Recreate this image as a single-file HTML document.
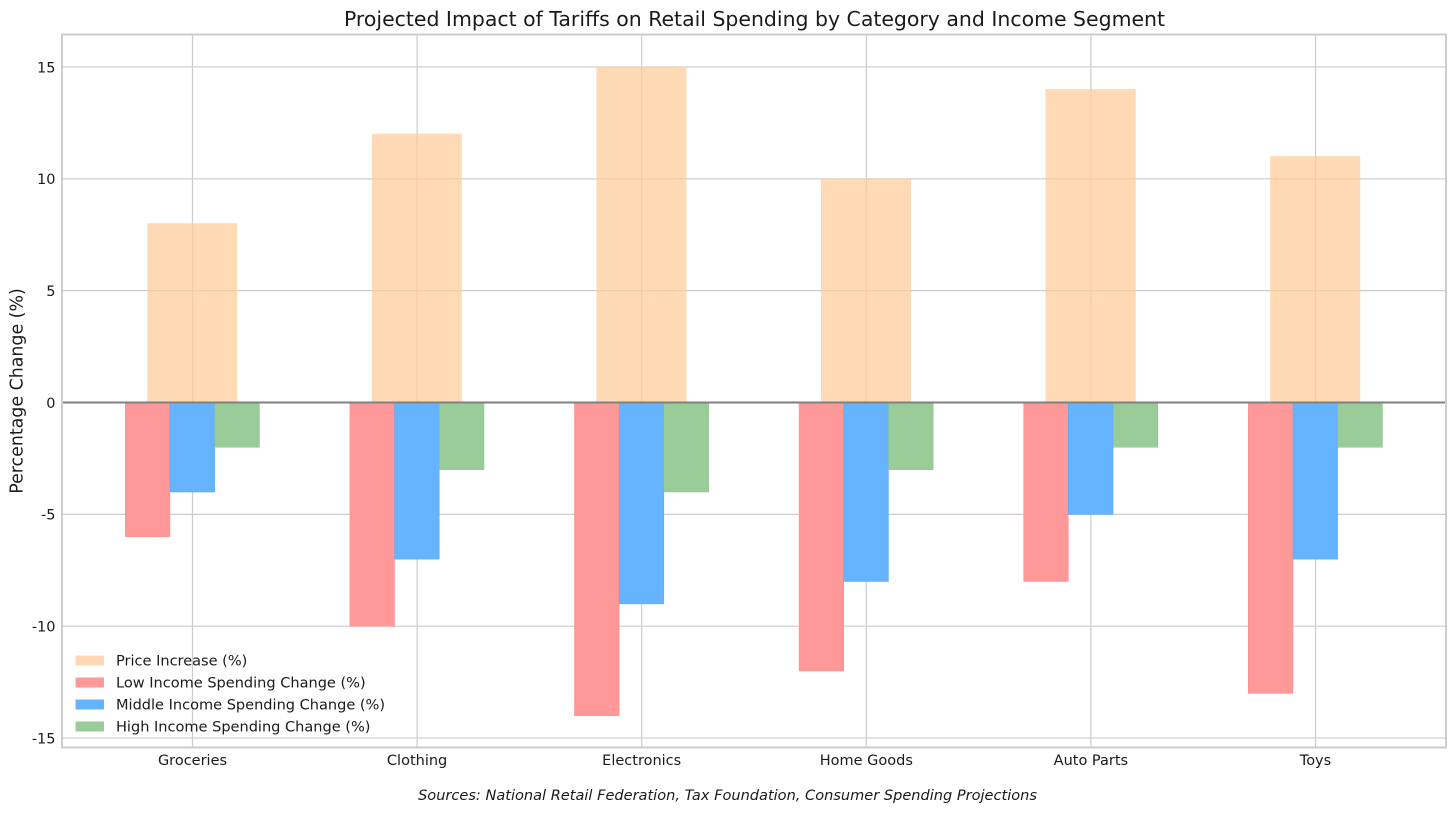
<!DOCTYPE html>
<html lang="en">
<head>
<meta charset="utf-8">
<title>Projected Impact of Tariffs on Retail Spending</title>
<style>
html,body{margin:0;padding:0;background:#fff;width:1456px;height:814px;overflow:hidden}
svg{display:block}
text{font-family:"DejaVu Sans","Liberation Sans",sans-serif;fill:#1a1a1a}
</style>
</head>
<body>
<svg id="chart" xmlns="http://www.w3.org/2000/svg" width="1456" height="814" viewBox="0 0 1456 814">
  <rect x="0" y="0" width="1456" height="814" fill="#fff"/>
  <g id="grid"></g>
  <g id="bars"></g>
  <line id="zero" x1="62" x2="1446" stroke="#808080" stroke-width="2"/>
  <rect x="62" y="34.5" width="1384" height="713" fill="none" stroke="#cccccc" stroke-width="2"/>
  <g id="ticks"></g>
  <text x="754.5" y="26" text-anchor="middle" font-size="20.45">Projected Impact of Tariffs on Retail Spending by Category and Income Segment</text>
  <text transform="translate(22.5,391) rotate(-90)" text-anchor="middle" font-size="17.4">Percentage Change (%)</text>
  <text x="727.5" y="800" text-anchor="middle" font-size="14.56" font-style="italic">Sources: National Retail Federation, Tax Foundation, Consumer Spending Projections</text>
  <g id="legend"></g>
</svg>
<script>
const categories = ['Groceries', 'Clothing', 'Electronics', 'Home Goods', 'Auto Parts', 'Toys'];
const priceIncrease = [8, 12, 15, 10, 14, 11];
const lowIncome = [-6, -10, -14, -12, -8, -13];
const middleIncome = [-4, -7, -9, -8, -5, -7];
const highIncome = [-2, -3, -4, -3, -2, -2];
const yTicks = [15, 10, 5, 0, -5, -10, -15];
const seriesNames = ['Price Increase (%)', 'Low Income Spending Change (%)', 'Middle Income Spending Change (%)', 'High Income Spending Change (%)'];

const NS = 'http://www.w3.org/2000/svg';
function xPos(i) { return 192.5 + i * 224.6; }
function yPos(v) { return 402.5 - v * 22.37; }
function make(tag, attrs, parent) {
  const el = document.createElementNS(NS, tag);
  for (const k in attrs) el.setAttribute(k, attrs[k]);
  parent.appendChild(el);
  return el;
}
const gridG = document.getElementById('grid');
const barsG = document.getElementById('bars');
const ticksG = document.getElementById('ticks');
const legendG = document.getElementById('legend');
document.getElementById('zero').setAttribute('y1', yPos(0));
document.getElementById('zero').setAttribute('y2', yPos(0));

yTicks.forEach(function (t) {
  const ln = make('line', {x1: 62, x2: 1446, y1: yPos(t), y2: yPos(t), stroke: '#cccccc', 'stroke-width': 1.2}, gridG);
  
  
  const tx = make('text', {x: 55.5, y: yPos(t) + 5.3, 'text-anchor': 'end', 'font-size': 14.5}, ticksG);
  tx.textContent = String(t);
  
  
});

categories.forEach(function (c, i) {
  const ln = make('line', {x1: xPos(i), x2: xPos(i), y1: 34.5, y2: 747.5, stroke: '#cccccc', 'stroke-width': 1.2}, gridG);
  
  
  const tx = make('text', {x: xPos(i), y: 765, 'text-anchor': 'middle', 'font-size': 14.5}, ticksG);
  tx.textContent = c;
  
  
});

function drawBar(v, i, offset, width, fill, stroke, opacity) {
  const cx = xPos(i) + offset;
  const top = Math.min(yPos(v), yPos(0));
  const h = Math.abs(yPos(v) - yPos(0));
  const r = make('rect', {x: cx - width / 2, y: top, width: width, height: h, fill: fill, stroke: stroke, 'stroke-width': 0.6, opacity: opacity}, barsG);
  return r;
}

priceIncrease.forEach(function (v, i) {
  const r = drawBar(v, i, -0.3, 89.4, '#ffcc99', '#ffcc99', 0.72);
  
  
});
lowIncome.forEach(function (v, i) {
  const r = drawBar(v, i, -44.9, 44.6, '#ff9999', '#ff8f8f', 1);
  
  
});
middleIncome.forEach(function (v, i) {
  const r = drawBar(v, i, -0.2, 44.6, '#66b3ff', '#5aa9f8', 1);
  
  
});
highIncome.forEach(function (v, i) {
  const r = drawBar(v, i, 44.6, 44.6, '#99cc99', '#8fc48f', 1);
  
  
});

const swatchColors = ['#ffd8b3', '#ff9999', '#66b3ff', '#99cc99'];
seriesNames.forEach(function (n, i) {
  const rowY = 660.5 + i * 22;
  const sw = make('rect', {x: 75.5, y: rowY - 5, width: 28.5, height: 10, fill: swatchColors[i]}, legendG);
  
  
  const tx = make('text', {x: 116, y: rowY + 5.2, 'font-size': 14.54}, legendG);
  tx.textContent = n;
  
  
});
</script>
</body>
</html>
